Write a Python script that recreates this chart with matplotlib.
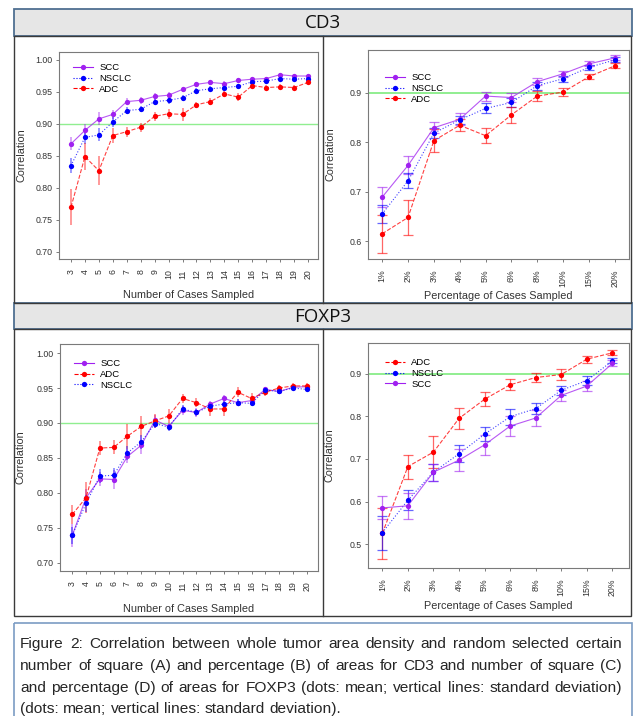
import numpy as np
import matplotlib
matplotlib.use('Agg')
import matplotlib.pyplot as plt
from matplotlib.patches import Rectangle
from matplotlib.lines import Line2D

W, H = 635, 716

# CD3, number of cases (A)
cases = [str(c) for c in range(3, 21)]
a_scc = [0.869, 0.890, 0.908, 0.915, 0.935, 0.937, 0.943, 0.945, 0.954, 0.962, 0.965, 0.963, 0.968, 0.970, 0.971, 0.977, 0.975, 0.975]
a_scc_sd = [0.010, 0.010, 0.010, 0.007, 0.005, 0.005, 0.005, 0.005, 0.004, 0.004, 0.004, 0.004, 0.004, 0.003, 0.003, 0.003, 0.003, 0.003]
a_nsclc = [0.835, 0.879, 0.883, 0.903, 0.921, 0.923, 0.935, 0.937, 0.941, 0.952, 0.955, 0.957, 0.959, 0.966, 0.967, 0.971, 0.970, 0.971]
a_nsclc_sd = [0.012, 0.010, 0.010, 0.008, 0.006, 0.005, 0.005, 0.005, 0.005, 0.004, 0.004, 0.004, 0.004, 0.003, 0.003, 0.003, 0.003, 0.003]
a_adc = [0.770, 0.849, 0.827, 0.882, 0.888, 0.895, 0.912, 0.916, 0.915, 0.930, 0.935, 0.947, 0.942, 0.960, 0.957, 0.958, 0.957, 0.965]
a_adc_sd = [0.028, 0.021, 0.023, 0.011, 0.008, 0.007, 0.007, 0.008, 0.010, 0.005, 0.005, 0.005, 0.006, 0.004, 0.004, 0.004, 0.004, 0.003]

# CD3, percentage of cases (B)
pct = ['1%', '2%', '3%', '4%', '5%', '6%', '8%', '10%', '15%', '20%']
b_scc = [0.689, 0.753, 0.829, 0.846, 0.893, 0.890, 0.922, 0.938, 0.958, 0.970]
b_scc_sd = [0.020, 0.018, 0.011, 0.012, 0.009, 0.009, 0.007, 0.006, 0.005, 0.005]
b_nsclc = [0.655, 0.722, 0.818, 0.845, 0.868, 0.880, 0.914, 0.928, 0.951, 0.966]
b_nsclc_sd = [0.018, 0.015, 0.010, 0.008, 0.010, 0.010, 0.008, 0.006, 0.005, 0.005]
b_adc = [0.615, 0.648, 0.803, 0.834, 0.813, 0.855, 0.893, 0.901, 0.932, 0.954]
b_adc_sd = [0.038, 0.035, 0.023, 0.012, 0.015, 0.016, 0.010, 0.008, 0.005, 0.005]

# FOXP3, number of cases (C)
c_scc = [0.739, 0.793, 0.820, 0.819, 0.852, 0.868, 0.904, 0.895, 0.918, 0.915, 0.927, 0.935, 0.929, 0.932, 0.948, 0.945, 0.951, 0.952]
c_scc_sd = [0.017, 0.012, 0.010, 0.014, 0.010, 0.012, 0.008, 0.005, 0.006, 0.006, 0.005, 0.005, 0.005, 0.004, 0.004, 0.004, 0.003, 0.003]
c_adc = [0.769, 0.793, 0.864, 0.865, 0.881, 0.895, 0.903, 0.910, 0.935, 0.929, 0.920, 0.920, 0.944, 0.935, 0.944, 0.950, 0.953, 0.953]
c_adc_sd = [0.014, 0.022, 0.010, 0.010, 0.018, 0.015, 0.010, 0.010, 0.007, 0.006, 0.010, 0.010, 0.007, 0.008, 0.005, 0.005, 0.004, 0.004]
c_nsclc = [0.739, 0.785, 0.824, 0.825, 0.857, 0.873, 0.899, 0.894, 0.920, 0.915, 0.924, 0.927, 0.929, 0.928, 0.947, 0.945, 0.950, 0.948]
c_nsclc_sd = [0.012, 0.012, 0.010, 0.010, 0.010, 0.010, 0.006, 0.005, 0.006, 0.005, 0.005, 0.005, 0.005, 0.004, 0.004, 0.004, 0.003, 0.003]

# FOXP3, percentage of cases (D)
d_adc = [0.525, 0.682, 0.716, 0.795, 0.840, 0.874, 0.891, 0.898, 0.934, 0.949]
d_adc_sd = [0.060, 0.028, 0.038, 0.025, 0.016, 0.013, 0.011, 0.013, 0.008, 0.006]
d_nsclc = [0.527, 0.603, 0.669, 0.712, 0.758, 0.799, 0.818, 0.861, 0.884, 0.930]
d_nsclc_sd = [0.040, 0.023, 0.020, 0.020, 0.016, 0.019, 0.013, 0.011, 0.010, 0.006]
d_scc = [0.585, 0.590, 0.669, 0.697, 0.733, 0.777, 0.796, 0.849, 0.871, 0.924]
d_scc_sd = [0.027, 0.030, 0.020, 0.026, 0.023, 0.023, 0.018, 0.012, 0.012, 0.007]

caption_lines = [
    'Figure 2: Correlation between whole tumor area density and random selected certain',
    'number of square (A) and percentage (B) of areas for CD3 and number of square (C)',
    'and percentage (D) of areas for FOXP3 (dots: mean; vertical lines: standard deviation)',
    '(dots: mean; vertical lines: standard deviation).',
]

styles = {
    'SCC': dict(color='#a020f0', ls='-'),
    'NSCLC': dict(color='#0000ff', ls=':'),
    'ADC': dict(color='#ff0000', ls='--'),
}

plt.rcParams['font.family'] = ['Liberation Sans', 'DejaVu Sans']

fig = plt.figure(figsize=(W / 100, H / 100), dpi=100)

# background layer in pixel coordinates for frames and caption
bg = fig.add_axes([0, 0, 1, 1], zorder=0)
bg.set_xlim(0, W)
bg.set_ylim(H, 0)
bg.axis('off')


def px_rect(x0, y0, x1, y1):
    return [x0 / W, 1 - y1 / H, (x1 - x0) / W, (y1 - y0) / H]


band_edge = '#4f6f91'
panel_edge = '#3a3a3a'
for y0, y1, title in [(9, 36, 'CD3'), (303, 329, 'FOXP3')]:
    bg.add_patch(Rectangle((14, y0), 618, y1 - y0, facecolor='#e6e6e6', edgecolor=band_edge, lw=1.3))
    bg.text(323, (y0 + y1) / 2 + 1, title, ha='center', va='center', fontsize=13.5,
            family=['Open Sans', 'DejaVu Sans'], color='#111111')
for y0, y1 in [(36, 303), (329, 616)]:
    bg.add_patch(Rectangle((14, y0), 617, y1 - y0, facecolor='none', edgecolor=panel_edge, lw=1.0))
    bg.plot([323, 323], [y0, y1], color=panel_edge, lw=1.0)

# caption box
bg.add_patch(Rectangle((14, 623), 618, 100, facecolor='none', edgecolor='#7b9cc4', lw=1.2, clip_on=False))

# caption, fully justified between x_left and x_right
renderer = fig.canvas.get_renderer()
cap_y = [644, 666, 688, 709]
x_left, x_right = 20, 622
probe = bg.text(0, 0, caption_lines[0], fontsize=10)
cap_fs = 10 * (x_right - x_left) / probe.get_window_extent(renderer).width * 0.97
probe.remove()
space_w = cap_fs * 100 / 72 * 0.278
for k, (line, y) in enumerate(zip(caption_lines, cap_y)):
    words = line.split(' ')
    texts = [bg.text(0, y, w, fontsize=cap_fs, color='#262626', ha='left', va='center') for w in words]
    widths = [t.get_window_extent(renderer).width for t in texts]
    if k < len(caption_lines) - 1:
        gap = (x_right - x_left - sum(widths)) / (len(words) - 1)
    else:
        gap = space_w
    x = x_left
    for t, w in zip(texts, widths):
        t.set_x(x)
        x += w + gap


def panel(rect, labels, series, order, ylim, yticks, yfmt, xlim, xlabel, capped, lab_xy, leg_off):
    x0, y0, x1, y1 = rect
    ax = fig.add_axes(px_rect(*rect), zorder=1)
    x = np.arange(len(labels))
    ax.axhline(0.9, color='#90ee90', lw=1.4 if capped else 1.0, zorder=1)
    handles = []
    for name in order:
        vals, sd = series[name]
        st = styles[name]
        if capped:
            ax.errorbar(x, vals, yerr=sd, fmt='none', ecolor=st['color'], elinewidth=0.9,
                        capsize=3.3, capthick=0.9, alpha=0.6, zorder=2)
        else:
            ax.errorbar(x, vals, yerr=sd, fmt='none', ecolor=st['color'], elinewidth=1.4,
                        alpha=0.4, zorder=2)
        ax.plot(x, vals, color=st['color'], ls=st['ls'], lw=0.8, alpha=0.75, zorder=3)
        ax.plot(x, vals, 'o', color=st['color'], ms=3.8, mec='none', zorder=4)
        handles.append(Line2D([], [], color=st['color'], ls=st['ls'], lw=0.8, marker='o',
                              ms=3.8, mec='none', label=name))
    ax.legend(handles=handles, loc='upper left',
              bbox_to_anchor=(leg_off[0] / (x1 - x0), 1 - leg_off[1] / (y1 - y0)),
              frameon=False, fontsize=6.8, handlelength=2.1, handletextpad=0.7,
              labelspacing=0.2, numpoints=1, borderaxespad=0, borderpad=0)
    ax.set_xlim(*xlim)
    ax.set_ylim(*ylim)
    ax.set_xticks(x)
    ax.set_xticklabels(labels, rotation=90, fontsize=6.3, color='#333333')
    ax.set_yticks(yticks)
    ax.set_yticklabels([yfmt % v for v in yticks], fontsize=6.3, color='#333333')
    ax.tick_params(length=2.5, width=0.6, color='#666666', pad=2)
    ax.tick_params(axis='x', pad=5)
    for s in ax.spines.values():
        s.set_color('#7a7a7a')
        s.set_linewidth(0.8)
    ax.set_xlabel(xlabel, fontsize=7.8, color='#333333')
    ax.set_ylabel('Correlation', fontsize=7.8, color='#333333')
    ax.xaxis.set_label_coords(0.5, lab_xy[1])
    ax.yaxis.set_label_coords(lab_xy[0], 0.5)
    return ax


ticks_num = [0.70, 0.75, 0.80, 0.85, 0.90, 0.95, 1.00]

panel((59, 52, 318, 259), cases,
      {'SCC': (a_scc, a_scc_sd), 'NSCLC': (a_nsclc, a_nsclc_sd), 'ADC': (a_adc, a_adc_sd)},
      ['SCC', 'NSCLC', 'ADC'], (0.689, 1.0125), ticks_num, '%.2f', (-0.86, 17.72),
      'Number of Cases Sampled', False, (-0.127, -0.150), (14, 11))

panel((368, 50, 629, 259), pct,
      {'SCC': (b_scc, b_scc_sd), 'NSCLC': (b_nsclc, b_nsclc_sd), 'ADC': (b_adc, b_adc_sd)},
      ['SCC', 'NSCLC', 'ADC'], (0.564, 0.986), [0.6, 0.7, 0.8, 0.9], '%.1f', (-0.55, 9.55),
      'Percentage of Cases Sampled', True, (-0.126, -0.153), (17, 23))

panel((60, 344, 318, 571), cases,
      {'SCC': (c_scc, c_scc_sd), 'ADC': (c_adc, c_adc_sd), 'NSCLC': (c_nsclc, c_nsclc_sd)},
      ['SCC', 'ADC', 'NSCLC'], (0.688, 1.013), ticks_num, '%.2f', (-0.89, 17.82),
      'Number of Cases Sampled', False, (-0.132, -0.145), (14, 15))

panel((368, 343, 629, 568), pct,
      {'ADC': (d_adc, d_adc_sd), 'NSCLC': (d_nsclc, d_nsclc_sd), 'SCC': (d_scc, d_scc_sd)},
      ['ADC', 'NSCLC', 'SCC'], (0.444, 0.972), [0.5, 0.6, 0.7, 0.8, 0.9], '%.1f', (-0.56, 9.65),
      'Percentage of Cases Sampled', True, (-0.130, -0.147), (17, 15))

fig.savefig('out.png', dpi=100)
